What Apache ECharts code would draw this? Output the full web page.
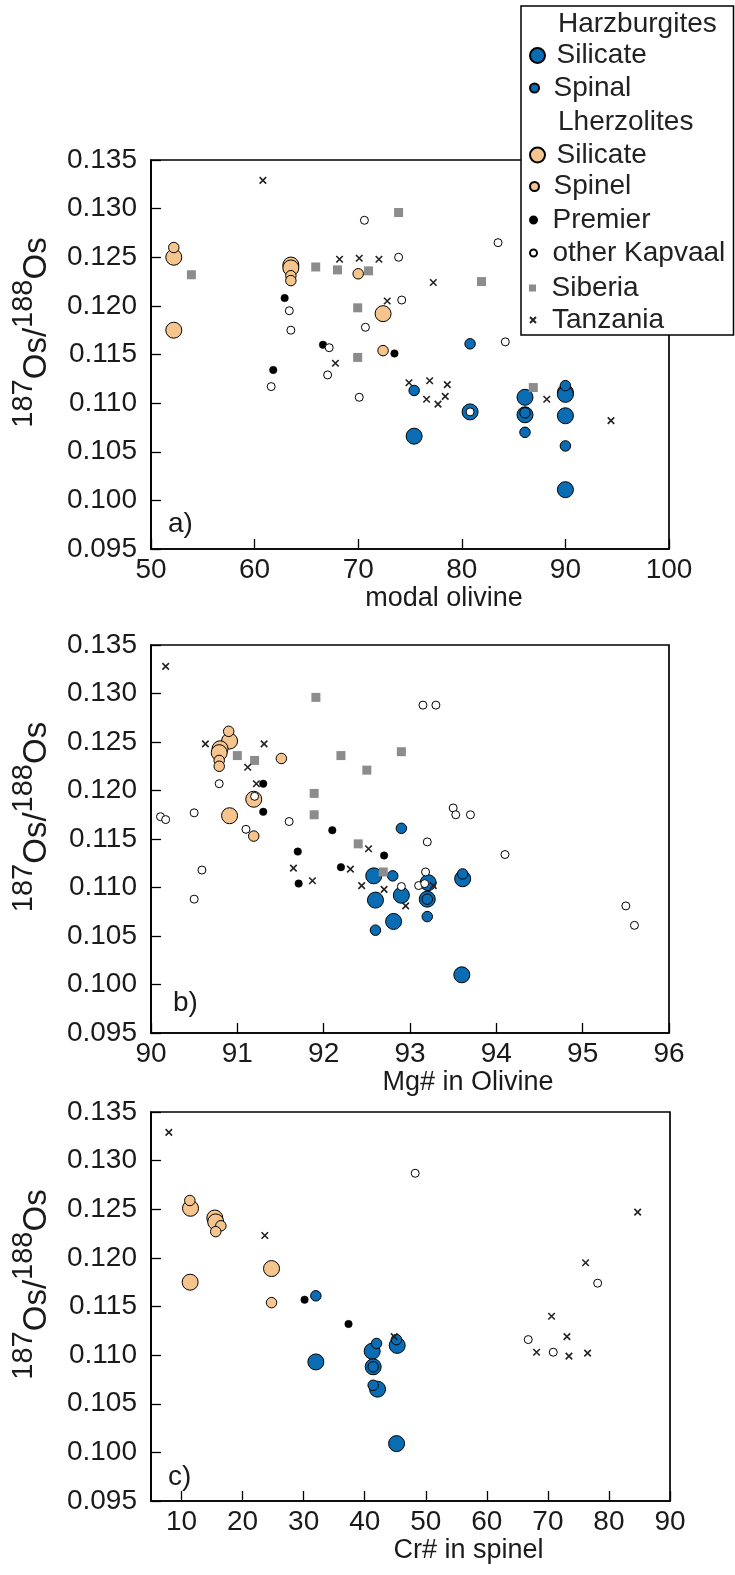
<!DOCTYPE html>
<html><head><meta charset="utf-8">
<script src="https://cdn.jsdelivr.net/npm/echarts@6/dist/echarts.min.js"></script>
<style>html,body{margin:0;padding:0;background:#fff}#c{width:735px;height:1575px}</style>
</head><body><div id="c"></div>
<script>
// ---------- DATA ----------
// Panel a) modal olivine vs 187Os/188Os
const aHarzSil = [[75.4,0.1066],[80.8,0.1091],[86.1,0.1106],[86.1,0.1088],[90.0,0.1111],[90.0,0.1109],[90.0,0.1087],[90.0,0.1011]];
const aHarzSp = [[75.4,0.1113],[80.8,0.1161],[86.1,0.1090],[86.1,0.1070],[90.0,0.1118],[90.0,0.1056]];
const aLherzSil = [[52.2,0.1250],[52.2,0.1175],[63.5,0.1242],[63.5,0.1239],[72.4,0.1192]];
const aLherzSp = [[52.2,0.1260],[63.5,0.1231],[63.5,0.1226],[70.0,0.1233],[72.4,0.1154]];
const aPremier = [[62.9,0.1208],[61.8,0.1134],[66.6,0.1160],[73.5,0.1151]];
const aKapvaal = [[63.35,0.1195],[63.5,0.1175],[61.6,0.1117],[70.6,0.1288],[73.9,0.1250],[74.2,0.1206],[70.7,0.1178],[67.2,0.1157],[67.05,0.1129],[70.1,0.1106],[83.5,0.1265],[84.2,0.1163],[80.8,0.1091]];
const aSiberia = [[53.9,0.1232],[65.9,0.1240],[68.0,0.1237],[71.0,0.1236],[73.9,0.1296],[69.95,0.1198],[69.95,0.1147],[81.9,0.1225],[86.9,0.1116]];
const aTanzania = [[60.8,0.1329],[68.2,0.1248],[70.1,0.1249],[72.0,0.1248],[77.25,0.1224],[72.8,0.1205],[67.8,0.1141],[74.9,0.1121],[76.9,0.1123],[76.6,0.1104],[77.7,0.1099],[78.6,0.1119],[78.4,0.1107],[88.2,0.1104],[94.4,0.1082]];

// Panel b) Mg# in olivine
const bHarzSil = [[92.58,0.1112],[92.90,0.1092],[92.60,0.1087],[92.81,0.1065],[93.21,0.1105],[93.20,0.1088],[93.61,0.1109],[93.60,0.1010]];
const bHarzSp = [[92.90,0.1161],[92.80,0.1112],[92.60,0.1056],[93.20,0.1088],[93.20,0.1070],[93.61,0.1114]];
const bLherzSil = [[90.91,0.1251],[90.80,0.1243],[90.79,0.1239],[91.19,0.1191],[90.91,0.1174]];
const bLherzSp = [[90.90,0.1261],[90.79,0.1231],[90.79,0.1225],[91.51,0.1233],[91.19,0.1153]];
const bPremier = [[91.30,0.1207],[91.30,0.1178],[92.10,0.1159],[92.70,0.1133],[91.70,0.1137],[92.20,0.1121],[91.71,0.1104]];
const bKapvaal = [[93.15,0.1288],[93.30,0.1288],[90.79,0.1207],[91.20,0.1194],[90.11,0.1173],[90.17,0.1170],[90.50,0.1177],[91.60,0.1168],[91.10,0.1160],[90.50,0.1088],[90.59,0.1118],[93.20,0.1147],[92.90,0.1101],[93.50,0.1182],[93.53,0.1175],[93.70,0.1175],[94.10,0.1134],[93.18,0.1116],[93.10,0.1102],[93.17,0.1104],[95.50,0.1081],[95.60,0.1061]];
const bSiberia = [[91.91,0.1296],[91.0,0.1236],[91.2,0.1231],[92.2,0.1236],[92.5,0.1221],[92.9,0.1240],[91.89,0.1197],[91.89,0.1175],[92.40,0.1145],[92.69,0.1116]];
const bTanzania = [[90.17,0.1328],[90.63,0.1248],[91.31,0.1248],[91.12,0.1224],[91.22,0.1207],[92.52,0.1140],[91.65,0.1120],[92.31,0.1119],[91.87,0.1107],[92.44,0.1102],[92.70,0.1098],[92.95,0.1081],[93.27,0.1102]];

// Panel c) Cr# in spinel
const cHarzSil = [[32.0,0.1093],[41.22,0.1104],[41.39,0.1088],[42.1,0.1065],[45.32,0.1110],[45.22,0.1009]];
const cHarzSp = [[32.0,0.1161],[41.94,0.1112],[41.39,0.1088],[41.39,0.1069],[45.2,0.1116]];
const cLherzSil = [[11.47,0.1251],[15.45,0.1241],[15.6,0.1237],[24.74,0.1189],[11.41,0.1175]];
const cLherzSp = [[11.36,0.1259],[16.44,0.1233],[15.6,0.1227],[24.74,0.1154]];
const cPremier = [[30.15,0.1157],[37.35,0.1132]];
const cKapvaal = [[48.27,0.1287],[78.15,0.1174],[66.78,0.1116],[70.88,0.1103]];
const cSiberia = [];
const cTanzania = [[7.92,0.1329],[23.64,0.1223],[44.83,0.1119],[84.7,0.1247],[76.18,0.1195],[70.6,0.1140],[73.12,0.1119],[68.15,0.1103],[73.45,0.1099],[76.5,0.1102]];

// axes / labels
const xTitles = ['modal olivine', 'Mg# in Olivine', 'Cr# in spinel'];
const panelLetters = ['a)', 'b)', 'c)'];
const xRanges = [[50, 100, 10], [90, 96, 1], [5, 90, 10]];
const cTickValues = [10, 20, 30, 40, 50, 60, 70, 80, 90];
const yRange = [0.095, 0.135, 0.005];
const legendNames = ['Silicate', 'Spinal', 'Silicate', 'Spinel', 'Premier', 'other Kapvaal', 'Siberia', 'Tanzania'];
const groupHeaders = ['Harzburgites', 'Lherzolites'];

// ---------- CHART ----------
const FONT = '"Liberation Sans", Arial, Helvetica, sans-serif';
const TXT = '#1a1a1a';
const BLUE = '#0a6db4', TAN = '#f5c58d', GREY = '#8c8c8c';
const panels = [
  [aHarzSil, aHarzSp, aLherzSil, aLherzSp, aPremier, aKapvaal, aSiberia, aTanzania],
  [bHarzSil, bHarzSp, bLherzSil, bLherzSp, bPremier, bKapvaal, bSiberia, bTanzania],
  [cHarzSil, cHarzSp, cLherzSil, cLherzSp, cPremier, cKapvaal, cSiberia, cTanzania]
];
const XPATH = 'path://M0,0L10,10M10,0L0,10';
const SQPATH = 'path://M0,0L10,0L10,10L0,10Z';
const defs = [
  {name: 'Harzburgite Silicate', symbol: 'circle', size: 16, color: BLUE, bc: '#000', bw: 1, lsize: 15},
  {name: 'Harzburgite Spinal', symbol: 'circle', size: 10.5, color: BLUE, bc: '#000', bw: 1, lsize: 9},
  {name: 'Lherzolite Silicate', symbol: 'circle', size: 16, color: TAN, bc: '#000', bw: 1, lsize: 15},
  {name: 'Lherzolite Spinel', symbol: 'circle', size: 10.5, color: TAN, bc: '#000', bw: 1, lsize: 9},
  {name: 'Premier', symbol: 'circle', size: 7.5, color: '#000', bc: '#000', bw: 0.5, lsize: 7},
  {name: 'other Kapvaal', symbol: 'circle', size: 8, color: '#fff', bc: '#000', bw: 1, lsize: 7},
  {name: 'Siberia', symbol: 'rect', size: 9, color: GREY, bc: GREY, bw: 0, lsize: 7, icon: SQPATH},
  {name: 'Tanzania', symbol: XPATH, size: 6.5, color: 'rgba(0,0,0,0)', bc: '#222', bw: 1.6, lsize: 6}
];
const legendRowY = [55.5, 88, 155, 186.5, 220, 253, 288, 320];
const headerRowY = [24, 122];

const grids = [
  {left: 151, top: 160, width: 518, height: 389},
  {left: 151, top: 645, width: 518, height: 388},
  {left: 151, top: 1112, width: 519, height: 389}
];
const xPad = [68, 116, 116];

const option = {
  animation: false,
  backgroundColor: '#fff',
  textStyle: {fontFamily: FONT},
  grid: grids.map(g => Object.assign({show: true, borderColor: '#000', borderWidth: 1.7, backgroundColor: 'transparent', containLabel: false}, g)),
  xAxis: xRanges.map((r, i) => {
    const ax = {
      type: 'value', gridIndex: i, min: r[0], max: r[1],
      name: xTitles[i], nameLocation: 'middle', nameGap: 35,
      nameTextStyle: {fontSize: 27, color: TXT, fontFamily: FONT, padding: [0, 0, 0, xPad[i]]},
      axisLine: {show: true, onZero: false, lineStyle: {color: '#000', width: 1.7}},
      axisTick: {show: true, inside: true, length: 10, lineStyle: {color: '#000', width: 1.3}},
      axisLabel: {fontSize: 28, color: TXT, fontFamily: FONT, margin: 7},
      splitLine: {show: false}
    };
    if (i === 2) {
      ax.axisTick.customValues = cTickValues;
      ax.axisLabel.customValues = cTickValues;
    } else {
      ax.interval = r[2];
    }
    return ax;
  }),
  yAxis: [0, 1, 2].map(i => ({
    type: 'value', gridIndex: i, min: yRange[0], max: yRange[1], interval: yRange[2],
    name: '{s|187}{n|Os/}{s|188}{n|Os}', nameLocation: 'middle', nameGap: 98,
    nameTextStyle: {
      fontFamily: FONT, color: TXT, padding: [0, 0, 0, 44],
      rich: {
        s: {fontSize: 29, lineHeight: 29, verticalAlign: 'top', fontFamily: FONT, color: TXT},
        n: {fontSize: 33, lineHeight: 44, verticalAlign: 'bottom', fontFamily: FONT, color: TXT}
      }
    },
    axisLine: {show: true, onZero: false, lineStyle: {color: '#000', width: 1.7}},
    axisTick: {show: true, inside: true, length: 10, lineStyle: {color: '#000', width: 1.3}},
    axisLabel: {fontSize: 28, color: TXT, fontFamily: FONT, margin: 14, formatter: v => v.toFixed(3)},
    splitLine: {show: false}
  })),
  legend: defs.map((d, k) => ({
    data: [d.icon ? {name: d.name, icon: d.icon} : {name: d.name}],
    left: 529, top: legendRowY[k] - 15, padding: 0,
    itemWidth: 28, itemHeight: d.lsize, selectedMode: false, z: 10, symbolKeepAspect: true,
    formatter: () => legendNames[k],
    textStyle: {fontSize: 28, fontFamily: FONT, color: '#222', lineHeight: 30}
  })),
  graphic: [
    {type: 'rect', z: 6, shape: {x: 521, y: 6, width: 212.5, height: 329}, style: {fill: '#fff', stroke: '#000', lineWidth: 1.5}},
    {type: 'text', z: 11, x: 558, y: headerRowY[0], style: {text: groupHeaders[0], font: '28px ' + FONT, fill: '#222', verticalAlign: 'middle'}},
    {type: 'text', z: 11, x: 558, y: headerRowY[1], style: {text: groupHeaders[1], font: '28px ' + FONT, fill: '#222', verticalAlign: 'middle'}},
    {type: 'text', z: 11, x: 168, y: 524, style: {text: panelLetters[0], font: '28px ' + FONT, fill: TXT, verticalAlign: 'middle'}},
    {type: 'text', z: 11, x: 173, y: 1003, style: {text: panelLetters[1], font: '28px ' + FONT, fill: TXT, verticalAlign: 'middle'}},
    {type: 'text', z: 11, x: 168, y: 1477, style: {text: panelLetters[2], font: '28px ' + FONT, fill: TXT, verticalAlign: 'middle'}}
  ],
  series: []
};
panels.forEach((pd, i) => {
  defs.forEach((d, k) => {
    option.series.push({
      type: 'scatter', name: d.name, xAxisIndex: i, yAxisIndex: i,
      data: pd[k], symbol: d.symbol, symbolSize: d.size, silent: true,
      itemStyle: {color: d.color, borderColor: d.bc, borderWidth: d.bw, opacity: 1},
      emphasis: {disabled: true}
    });
  });
});
const chart = echarts.init(document.getElementById('c'));
chart.setOption(option);
</script>
</body></html>
